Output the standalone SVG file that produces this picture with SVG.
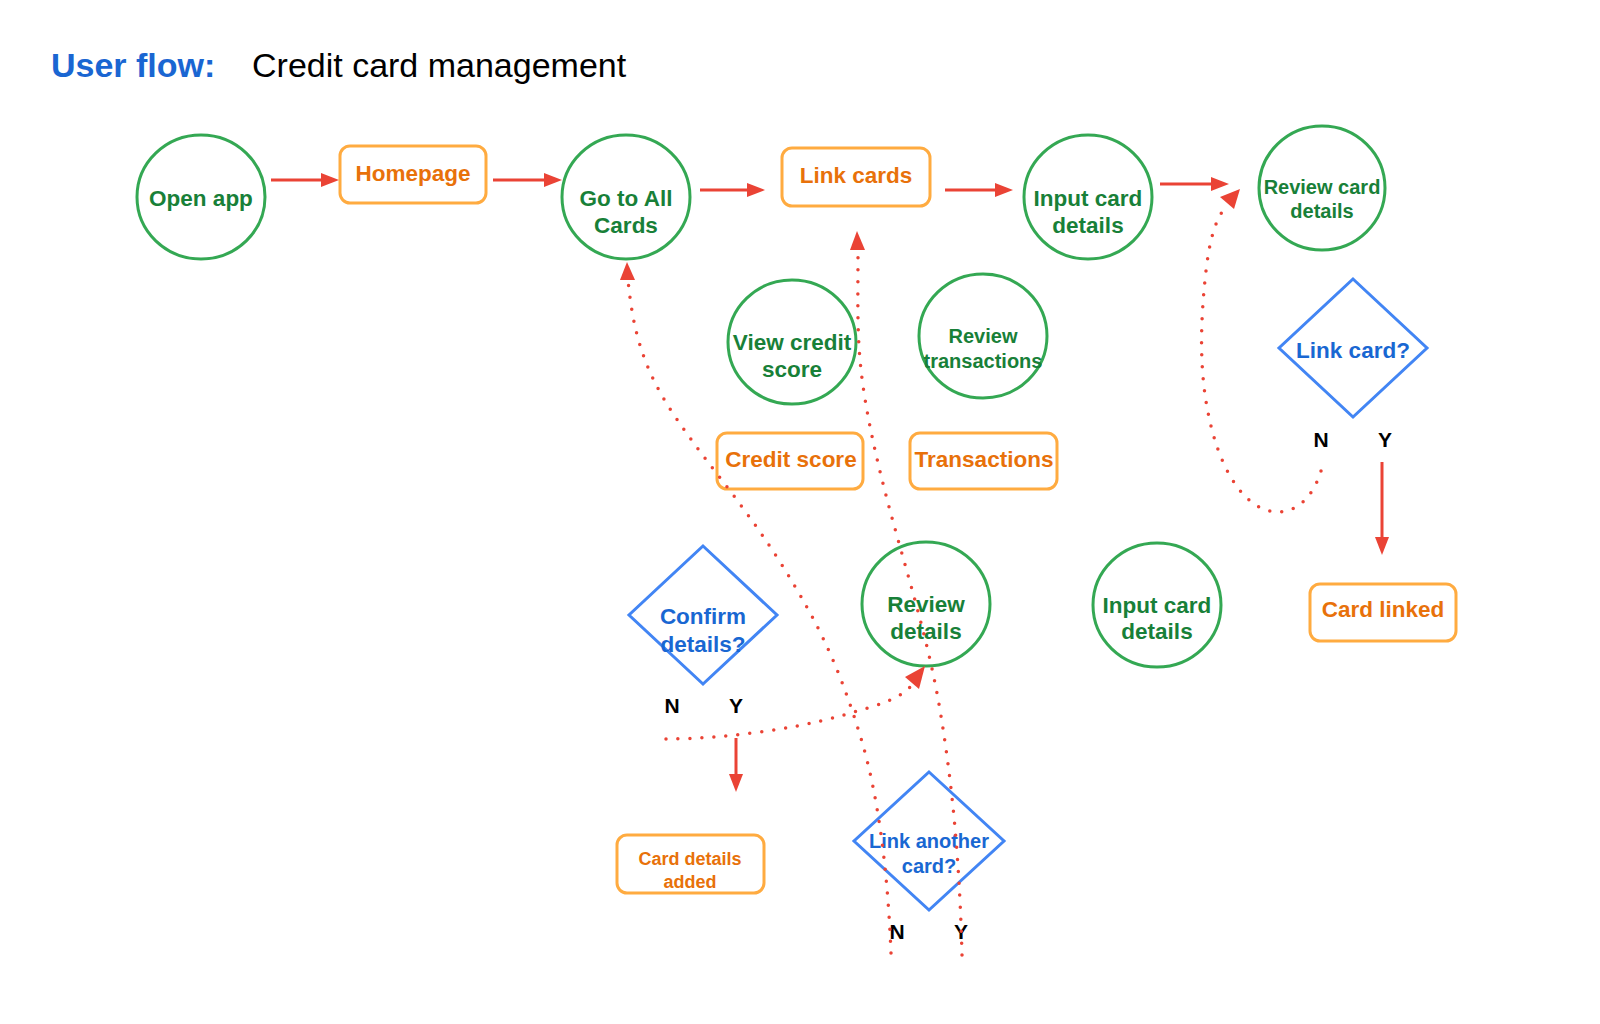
<svg xmlns="http://www.w3.org/2000/svg" width="1600" height="1024" viewBox="0 0 1600 1024">
<style>
text{font-family:"Liberation Sans",Arial,sans-serif;text-anchor:middle;font-weight:bold}
.c{fill:#fff;stroke:#34A853;stroke-width:3}
.ct{fill:#188038;font-size:22.5px}
.ct2{fill:#188038;font-size:20px}
.b{fill:#fff;stroke:#FFAB40;stroke-width:3}
.bt{fill:#E8710A;font-size:22.5px}
.d{fill:#fff;stroke:#4285F4;stroke-width:3}
.dt{fill:#1967D2;font-size:22.5px}
.dt2{fill:#1967D2;font-size:20px}
.yn{fill:#000;font-size:21px}
.sol{fill:none;stroke:#EA4335;stroke-width:3}
.dot{fill:none;stroke:#EA4335;stroke-width:3.5;stroke-linecap:round;stroke-dasharray:0 12}
</style>
<defs>
<marker id="ah" markerUnits="userSpaceOnUse" markerWidth="20" markerHeight="16" refX="0" refY="7" orient="auto"><path d="M0,0 L18,7 L0,14 z" fill="#EA4335"/></marker>
</defs>
<rect width="1600" height="1024" fill="#fff"/>
<g id="title">
<text x="51" y="77" style="font-size:34px;fill:#1A66D2;text-anchor:start">User flow:</text>
<text x="252" y="77" style="font-size:34px;fill:#000;font-weight:normal;text-anchor:start">Credit card management</text>
</g>
<g id="open-app"><ellipse class="c" cx="201" cy="197" rx="64" ry="62"/><text class="ct" x="201" y="206">Open app</text></g>
<g id="homepage"><rect class="b" x="340" y="146" width="146" height="57" rx="10"/><text class="bt" x="413" y="181">Homepage</text></g>
<g id="go-to-all-cards"><ellipse class="c" cx="626" cy="197" rx="64" ry="62"/><text class="ct" x="626" y="206">Go to All</text><text class="ct" x="626" y="233">Cards</text></g>
<g id="link-cards"><rect class="b" x="782" y="148" width="148" height="58" rx="10"/><text class="bt" x="856" y="183">Link cards</text></g>
<g id="input-card-details"><ellipse class="c" cx="1088" cy="197" rx="64" ry="62"/><text class="ct" x="1088" y="206">Input card</text><text class="ct" x="1088" y="233">details</text></g>
<g id="review-card-details"><ellipse class="c" cx="1322" cy="188" rx="63" ry="62"/><text class="ct2" x="1322" y="194">Review card</text><text class="ct2" x="1322" y="218">details</text></g>
<g id="view-credit-score"><ellipse class="c" cx="792" cy="342" rx="64" ry="62"/><text class="ct" x="792" y="350">View credit</text><text class="ct" x="792" y="377">score</text></g>
<g id="review-transactions"><ellipse class="c" cx="983" cy="336" rx="64" ry="62"/><text class="ct2" x="983" y="343">Review</text><text class="ct2" x="983" y="368">transactions</text></g>
<g id="credit-score"><rect class="b" x="717" y="433" width="146" height="56" rx="10"/><text class="bt" x="791" y="467">Credit score</text></g>
<g id="transactions"><rect class="b" x="910" y="433" width="147" height="56" rx="10"/><text class="bt" x="984" y="467">Transactions</text></g>
<g id="link-card-q"><polygon class="d" points="1353,279 1427,348 1353,417 1279,348"/><text class="dt" x="1353" y="358">Link card?</text></g>
<g id="card-linked"><rect class="b" x="1310" y="584" width="146" height="57" rx="10"/><text class="bt" x="1383" y="617">Card linked</text></g>
<g id="input-card-details-2"><ellipse class="c" cx="1157" cy="605" rx="64" ry="62"/><text class="ct" x="1157" y="613">Input card</text><text class="ct" x="1157" y="639">details</text></g>
<g id="review-details"><ellipse class="c" cx="926" cy="604" rx="64" ry="62"/><text class="ct" x="926" y="612">Review</text><text class="ct" x="926" y="639">details</text></g>
<g id="confirm-details-q"><polygon class="d" points="703,546 777,615 703,684 629,615"/><text class="dt" x="703" y="624">Confirm</text><text class="dt" x="703" y="652">details?</text></g>
<g id="card-details-added"><rect class="b" x="617" y="835" width="147" height="58" rx="10"/><text class="bt" x="690" y="865" style="font-size:18px">Card details</text><text class="bt" x="690" y="888" style="font-size:18px">added</text></g>
<g id="link-another-card-q"><polygon class="d" points="929,772 1004,841 929,910 854,841"/><text class="dt2" x="929" y="848">Link another</text><text class="dt2" x="929" y="873">card?</text></g>
<g id="labels">
<text class="yn" x="1321" y="447">N</text><text class="yn" x="1385" y="447">Y</text>
<text class="yn" x="672" y="713">N</text><text class="yn" x="736" y="713">Y</text>
<text class="yn" x="897" y="939">N</text><text class="yn" x="961" y="939">Y</text>
</g>
<g id="connectors">
<line class="sol" x1="271" y1="180" x2="321" y2="180" marker-end="url(#ah)"/>
<line class="sol" x1="493" y1="180" x2="544" y2="180" marker-end="url(#ah)"/>
<line class="sol" x1="700" y1="190" x2="747" y2="190" marker-end="url(#ah)"/>
<line class="sol" x1="945" y1="190" x2="995" y2="190" marker-end="url(#ah)"/>
<line class="sol" x1="1160" y1="184" x2="1211" y2="184" marker-end="url(#ah)"/>
<line class="sol" x1="1382" y1="462" x2="1382" y2="537" marker-end="url(#ah)"/>
<line class="sol" x1="736" y1="738" x2="736" y2="774" marker-end="url(#ah)"/>
<path class="dot" d="M891,953 C888,880 880,800 860,735 S820,625 780,562 S705,462 672,412 S632,320 628,280"/>
<path d="M620,280 L627,262 L635,280 z" fill="#EA4335"/>
<path class="dot" d="M962,955 C960,880 955,800 940,710 S895,540 875,450 S858,330 858,250"/>
<path d="M850,250 L857,231 L865,250 z" fill="#EA4335"/>
<path class="dot" d="M666,739 C720,739 790,730 840,716 S900,698 913,684"/>
<path d="M905,677 L925,666 L919,689 z" fill="#EA4335"/>
<path class="dot" d="M1321,471 C1312,500 1295,512 1278,512 C1250,512 1225,480 1212,430 S1200,330 1205,280 S1218,216 1228,204"/>
<path d="M1220,197 L1240,189 L1234,209 z" fill="#EA4335"/>
</g>
</svg>
